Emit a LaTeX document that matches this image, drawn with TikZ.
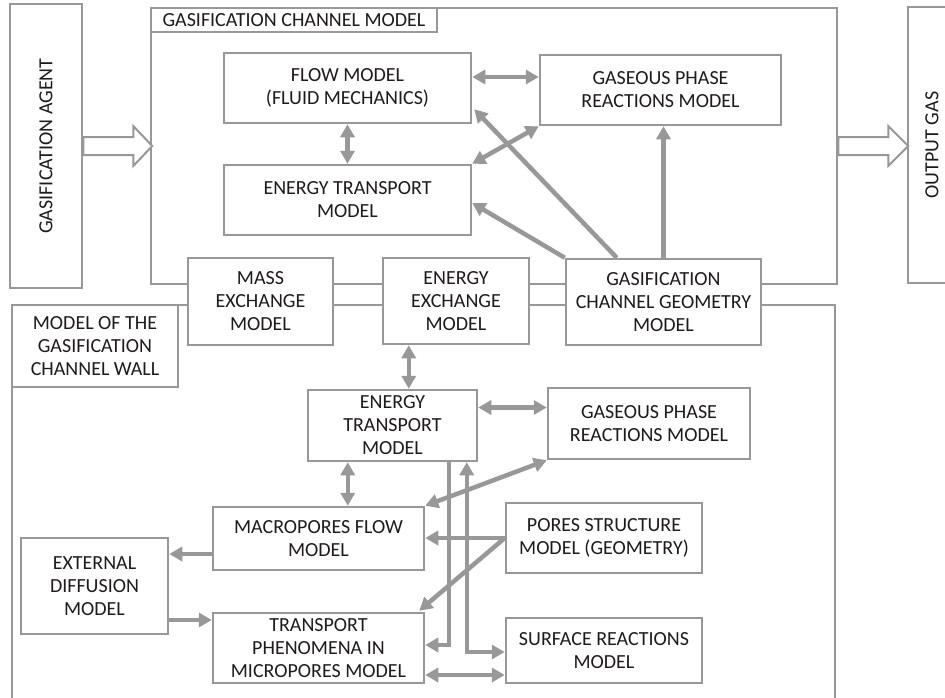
\documentclass[tikz,border=0pt]{standalone}
\usepackage{fontspec}
\setmainfont{Carlito}
\usetikzlibrary{arrows.meta,calc}
\definecolor{lg}{RGB}{152,152,152}
\definecolor{tx}{RGB}{30,27,28}
\begin{document}
\begin{tikzpicture}[x=1pt,y=-1pt,
  font=\fontsize{20}{23}\selectfont,
  every node/.style={text=tx},
  box/.style={draw=lg, line width=2.5pt, fill=white, align=center, inner sep=0pt},
  frame/.style={draw=lg, line width=2.5pt, inner sep=0pt},
  dbl/.style={draw=lg, line width=4.5pt, {Triangle[length=13pt,width=14pt]}-{Triangle[length=13pt,width=14pt]}},
  sgl/.style={draw=lg, line width=4.5pt, -{Triangle[length=13pt,width=14pt]}},
  hollow/.style={draw=lg, line width=2pt, fill=white, line join=miter}]
\useasboundingbox (0,0) rectangle (945,697);
\clip (0,0) rectangle (945,697);
\fill[white] (0,0) rectangle (945,697);

% containers
\node[frame, minimum width=686pt, minimum height=276pt] (channel) at (494,146) {};
\node[frame, minimum width=823pt, minimum height=415pt] (wall) at (423.5,512.5) {};
\node[box, minimum width=286pt, minimum height=24pt] (title) at (294,20) {GASIFICATION CHANNEL MODEL};
\node[box, minimum width=166pt, minimum height=82pt] (wlabel) at (95,346) {MODEL OF THE\\GASIFICATION\\CHANNEL WALL};

% side boxes
\node[box, minimum width=72pt, minimum height=284pt] (agent) at (46,146) {};
\node[rotate=90] at (agent.center) {GASIFICATION AGENT};
\node[box, minimum width=48pt, minimum height=276pt] (outgas) at (932,145) {};
\node[rotate=90] at (outgas.center) {OUTPUT GAS};

% channel model boxes
\node[box, minimum width=247pt, minimum height=70pt] (flow) at (347.5,88) {FLOW MODEL\\(FLUID MECHANICS)};
\node[box, minimum width=241pt, minimum height=70pt] (gasU) at (660.5,90) {GASEOUS PHASE\\REACTIONS MODEL};
\node[box, minimum width=247pt, minimum height=70pt] (energyU) at (347.5,200) {ENERGY TRANSPORT\\MODEL};

% exchange boxes
\node[box, minimum width=145pt, minimum height=87pt] (mass) at (260.5,301.5) {MASS\\EXCHANGE\\MODEL};
\node[box, minimum width=146pt, minimum height=86pt] (energyX) at (456,301) {ENERGY\\EXCHANGE\\MODEL};
\node[box, minimum width=195pt, minimum height=86pt] (geom) at (663.5,302) {GASIFICATION\\CHANNEL GEOMETRY\\MODEL};

% wall model boxes
\node[box, minimum width=169pt, minimum height=71pt] (energyL) at (392.5,425.5) {ENERGY\\TRANSPORT\\MODEL};
\node[box, minimum width=202pt, minimum height=71pt] (gasL) at (649,423.5) {GASEOUS PHASE\\REACTIONS MODEL};
\node[box, minimum width=211pt, minimum height=63pt] (macro) at (318.5,538.5) {MACROPORES FLOW\\MODEL};
\node[box, minimum width=196pt, minimum height=70pt] (pores) at (604,538) {PORES STRUCTURE\\MODEL (GEOMETRY)};
\node[box, minimum width=147pt, minimum height=96pt] (ext) at (94.5,586) {EXTERNAL\\DIFFUSION\\MODEL};
\node[box, minimum width=211pt, minimum height=70pt] (trans) at (318.5,648) {TRANSPORT\\PHENOMENA IN\\MICROPORES MODEL};
\node[box, minimum width=196pt, minimum height=65pt] (surf) at (604,650.5) {SURFACE REACTIONS\\MODEL};

% hollow arrows
\draw[hollow] ($(agent.east)+(0,-9)$) -- ++(50,0) -- ++(0,-11) -- ++(19,20) -- ++(-19,20) -- ++(0,-11) -- ++(-50,0) -- cycle;
\draw[hollow] ($(channel.east)+(0,-9)$) -- ++(50,0) -- ++(0,-11) -- ++(20,20) -- ++(-20,20) -- ++(0,-11) -- ++(-50,0) -- cycle;

% helper coordinates
\coordinate (f1) at ($(flow.east)+(0,-11)$);
\coordinate (g1) at ($(geom.north west)+(52,0)$);
\coordinate (f2) at ($(flow.south east)+(2,-15)$);
\coordinate (e2) at ($(energyU.east)+(0,3)$);
\coordinate (ex) at ($(energyX.south west)+(27,0)$);
\coordinate (el) at ($(energyL.east)+(0,-18)$);
\coordinate (em) at ($(energyL.south west)+(41,0)$);
\coordinate (tr1) at ($(trans.north east)+(-6,-1)$);
\coordinate (v1) at ($(energyL.south west)+(142,0)$);
\coordinate (t1) at ($(trans.east)+(0,-3)$);
\coordinate (v2) at ($(energyL.south west)+(160,0)$);
\coordinate (s1) at ($(surf.west)+(0,1.5)$);
\coordinate (t2) at ($(trans.east)+(0,27)$);
\coordinate (m1) at ($(macro.west)+(0,15.5)$);
\coordinate (e1) at ($(ext.east)+(0,34)$);

% channel model connectors
\draw[dbl] (f1) -- (f1 -| gasU.west);
\draw[dbl] (flow.south) -- (energyU.north);
\draw[dbl] (gasU.south west) -- (energyU.north east);
\draw[sgl] (g1) -- (f2);
\draw[sgl] (geom.north west) -- (e2);
\draw[sgl] (geom.north) -- (geom.north |- gasU.south);

% wall model connectors
\draw[dbl] (ex) -- (ex |- energyL.north);
\draw[dbl] (el) -- (el -| gasL.west);
\draw[dbl] (em) -- (em |- macro.north);
\draw[dbl] (macro.north east) -- (gasL.south west);
\draw[sgl] (pores.west) -- (pores.west -| macro.east);
\draw[sgl] (pores.west) -- (tr1);
\draw[sgl] (v1) |- (t1);
\draw[dbl] (v2) |- (s1);
\draw[dbl] (t2) -- (t2 -| surf.west);
\draw[sgl] (m1) -- (m1 -| ext.east);
\draw[sgl] (e1) -- (e1 -| trans.west);
\end{tikzpicture}
\end{document}
